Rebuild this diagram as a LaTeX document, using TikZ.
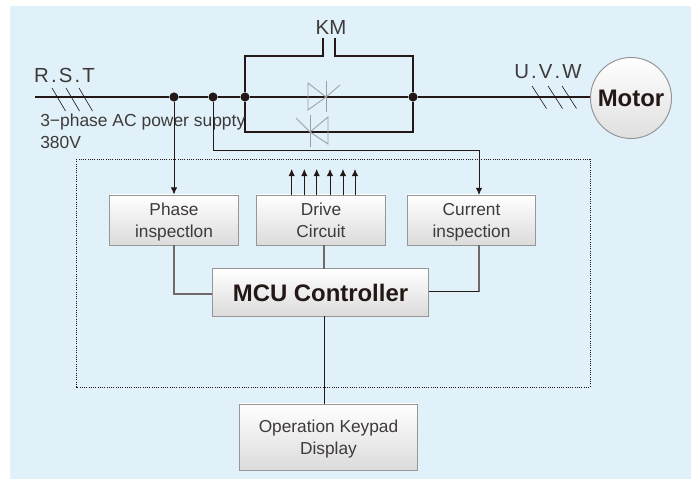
\documentclass[tikz,border=0pt]{standalone}
\usepackage{fontspec}
\setmainfont{Liberation Sans}
\usetikzlibrary{calc, positioning, arrows.meta}
\definecolor{panelblue}{RGB}{224,241,250}
\definecolor{wirecol}{RGB}{35,24,21}
\definecolor{textcol}{RGB}{62,58,57}
\definecolor{edgecol}{RGB}{150,150,150}
\newcommand{\boxtop}{\rule{0pt}{13.8pt}}
\tikzset{
  wire/.style={draw=wirecol, line width=1.4pt},
  thin wire/.style={draw=wirecol, line width=0.6pt},
  grey wire/.style={draw=wirecol!65, line width=0.9pt},
  tap/.style={thin wire, -{Latex[length=5pt,width=4.5pt]}},
  tick/.style={draw=wirecol, line width=0.45pt},
  thy/.style={draw=gray!75, line width=0.6pt},
  junction/.style={circle, fill=wirecol, inner sep=0pt, minimum size=6.5pt},
  blockbox/.style={rectangle, draw=edgecol, line width=0.7pt, inner ysep=0pt, top color=white, bottom color=gray!28, text=textcol, align=center, font=\fontsize{12.3}{15.7}\selectfont},
  plain label/.style={text=textcol, inner sep=0pt, font=\fontsize{12.4}{17}\selectfont},
  phase label/.style={plain label, font=\fontsize{14.5}{15}\selectfont}
}
\begin{document}
\begin{tikzpicture}[x=0.025cm, y=-0.025cm]
\useasboundingbox (0,0) rectangle (691,479);
\fill[panelblue] (10,6) rectangle (691,479);

% Upper wiring
\coordinate (linestart) at (35,97);
\node[junction] (dotA) at (174,97) {};
\node[junction] (dotB) at (213,97) {};
\node[junction] (dotC) at (245,97) {};
\node[junction] (dotD) at (413,97) {};
\node[circle, draw=edgecol, line width=0.7pt, top color=white, bottom color=gray!25, inner sep=0pt, text=wirecol, font=\fontsize{17}{17}\selectfont\bfseries, minimum size=2.025cm] (motor) at (631,98) {Motor};
\draw[wire] (linestart) -- (dotA) -- (dotB) -- (dotC) -- (dotD) -- (motor.west |- dotD);

% KM contact
\coordinate (kmL) at (323,38);
\coordinate (kmR) at (335,38);
\coordinate (topL) at (245,56);
\coordinate (topR) at (413,56);
\coordinate (lowL) at (245,132);
\coordinate (lowR) at (413,132);
\draw[wire] (kmL) |- (topL) -- (dotC);
\draw[wire] (kmR) |- (topR) -- (dotD);
\draw[wire] (dotC) -- (lowL) -- (lowR) -- (dotD);
\node[phase label] (kmtext) at (331,27) {KM};

% Thyristors
\draw[thy] (308,83) -- (326,97) -- (308,110) -- cycle;
\draw[thy] (326,81) -- (326,112);
\draw[thy] (326,97) -- (340,85);
\draw[thy] (328,117) -- (310,132) -- (328,144) -- cycle;
\draw[thy] (310,115) -- (310,147);
\draw[thy] (310,132) -- (296,118);

% Phase ticks
\foreach \tx in {52,66,79}
  \draw[tick] (\tx,88) -- +(13.5,23);
\foreach \tx in {532,548,562}
  \draw[tick] (\tx,86) -- +(14.5,22.5);
\node[phase label] (rst) at (64.5,75) {R\kern1.5pt.\kern1.5pt S\kern1.5pt.\kern1.5pt T};
\node[phase label] (uvw) at (548,72) {U\kern1.5pt.\kern1.5pt V\kern1.5pt.\kern1.5pt W};
\node[plain label, anchor=west] (supply) at (40,122) {3−phase AC power suppty};
\node[plain label, anchor=west] (volt) at (40,142) {380V};

% Control board
\draw[densely dotted, draw=wirecol, line width=0.6pt] (76,159) rectangle (590,387);
\node[blockbox, minimum width=3.2cm, minimum height=1.25cm] (phase) at (174,220) {\boxtop Phase\strut\\inspectlon\strut};
\node[blockbox, minimum width=3.2cm, minimum height=1.25cm] (drive) at (321,220) {\boxtop Drive\strut\\Circuit\strut};
\node[blockbox, minimum width=3.2cm, minimum height=1.25cm] (current) at (471.5,220) {\boxtop Current\strut\\inspection\strut};
\node[blockbox, minimum width=5.42cm, minimum height=1.18cm, text=wirecol, font=\fontsize{17}{17}\selectfont\bfseries] (mcu) at (320.5,292.5) {MCU Controller};
\node[blockbox, minimum width=4.47cm, minimum height=1.65cm] (keypad) at (328.5,437) {\boxtop Operation Keypad\strut\\Display\strut};

% Signals
\coordinate (bendB) at (213,150);
\coordinate (currentIn) at (479,195);
\coordinate (currentOut) at (479,245);
\coordinate (currentBend) at (479,291.7);
\coordinate (phaseBend) at (174,294);
\coordinate (driveOut) at (324,245);
\coordinate (driveIn) at (324,269);
\coordinate (mcuOut) at (324.5,316);
\coordinate (keypadIn) at (324.5,404);
\draw[tap] (dotA) -- (phase.north);
\draw[thin wire] (dotB) -- (bendB);
\draw[tap] (bendB) -| (currentIn);
\draw[grey wire] (phase.south) -- (phaseBend) -- (mcu.west |- phaseBend);
\draw[grey wire] (currentOut) -- (currentBend);
\draw[thin wire] (currentBend) -- (mcu.east |- currentBend);
\draw[grey wire] (driveOut) -- (driveIn);
\draw[thin wire] (mcuOut) -- (keypadIn);
\foreach \ax in {291.7,304.3,316.7,330,343,355}
  \draw[tap] (\ax,195) -- (\ax,169);
\end{tikzpicture}
\end{document}
